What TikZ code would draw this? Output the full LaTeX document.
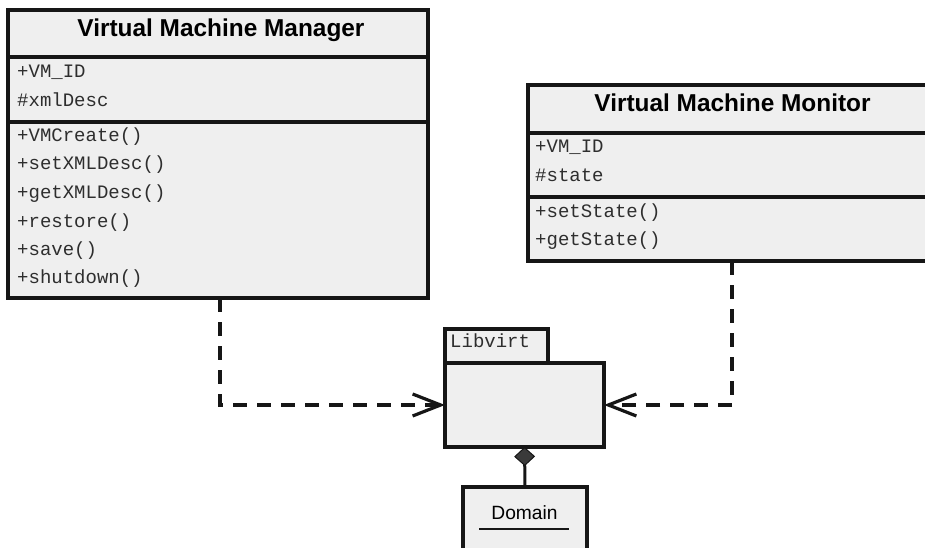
\documentclass[tikz,border=0pt]{standalone}
\usepackage{fontspec}
\setmainfont{Liberation Sans}
\setmonofont{Liberation Mono}
\usetikzlibrary{arrows.meta}
\definecolor{boxfill}{HTML}{EFEFEF}
\definecolor{inkline}{HTML}{161616}
\definecolor{membertext}{HTML}{2E2E2E}
\definecolor{diamondgray}{HTML}{3A3A3A}
\begin{document}
\begin{tikzpicture}[x=1pt,y=-1pt,
  umlbox/.style={rectangle, draw=inkline, line width=3.2pt, fill=boxfill, inner sep=0pt, outer sep=0pt},
  boxrule/.style={draw=inkline, line width=3.2pt},
  member/.style={anchor=base west, inner sep=0pt, text=membertext, font=\fontsize{19}{21}\selectfont\ttfamily},
  classtitle/.style={anchor=base, inner sep=0pt, text=black, font=\fontsize{24.4}{28}\selectfont\bfseries},
  depline/.style={draw=inkline, line width=3.4pt, dash pattern=on 14pt off 10pt,
    -{Straight Barb[length=28pt,width=22pt,line width=3.2pt]}},
  composition/.style={draw=inkline, line width=3pt,
    {Diamond[length=19pt,width=21pt,fill=diamondgray,line width=1pt]}-},
]
\useasboundingbox (0,0) rectangle (925,548);
\clip (0,0) rectangle (925,548);

% Virtual Machine Manager class
\node[umlbox, minimum width=420pt, minimum height=288pt] (mgr) at (218,154) {};
\draw[boxrule] (mgr.west |- 0,57) -- (mgr.east |- 0,57);
\draw[boxrule] (mgr.west |- 0,122) -- (mgr.east |- 0,122);
\node[classtitle] (mgrtitle) at (221,37) {Virtual Machine Manager};
\node[member] (mgra1) at (17,78) {+VM\_ID};
\node[member] (mgra2) at (17,107) {\#xmlDesc};
\node[member] (mgrm1) at (17,142) {+VMCreate()};
\node[member] (mgrm2) at (17,170) {+setXMLDesc()};
\node[member] (mgrm3) at (17,198) {+getXMLDesc()};
\node[member] (mgrm4) at (17,227) {+restore()};
\node[member] (mgrm5) at (17,255) {+save()};
\node[member] (mgrm6) at (17,283) {+shutdown()};

% Virtual Machine Monitor class
\node[umlbox, minimum width=409pt, minimum height=176pt] (mon) at (732.5,173) {};
\draw[boxrule] (mon.west |- 0,133) -- (mon.east |- 0,133);
\draw[boxrule] (mon.west |- 0,197) -- (mon.east |- 0,197);
\node[classtitle] (montitle) at (732.5,112) {Virtual Machine Monitor};
\node[member] (mona1) at (535,153) {+VM\_ID};
\node[member] (mona2) at (535,182) {\#state};
\node[member] (monm1) at (535,217) {+setState()};
\node[member] (monm2) at (535,245) {+getState()};

% Libvirt package
\node[umlbox, minimum width=103pt, minimum height=34pt] (lvtab) at (496.5,346) {};
\node[umlbox, minimum width=159pt, minimum height=84pt] (lvbody) at (524.5,405) {};
\node[member] (lvname) at (450,347) {Libvirt};

% Domain class
\node[umlbox, minimum width=124pt, minimum height=73pt] (dom) at (525,523.5) {};
\node[anchor=base, inner sep=0pt, font=\fontsize{19.2}{22}\selectfont] (domname) at (524.5,519) {Domain};
\draw[draw=inkline, line width=2pt] (479,529) -- (569,529);

% Dependencies and composition
\draw[depline] ([xshift=2pt]mgr.south) |- (lvbody.west);
\draw[depline] ([xshift=-0.5pt]mon.south) |- (lvbody.east);
\draw[composition] (lvbody.south) -- (dom.north);
\end{tikzpicture}
\end{document}
